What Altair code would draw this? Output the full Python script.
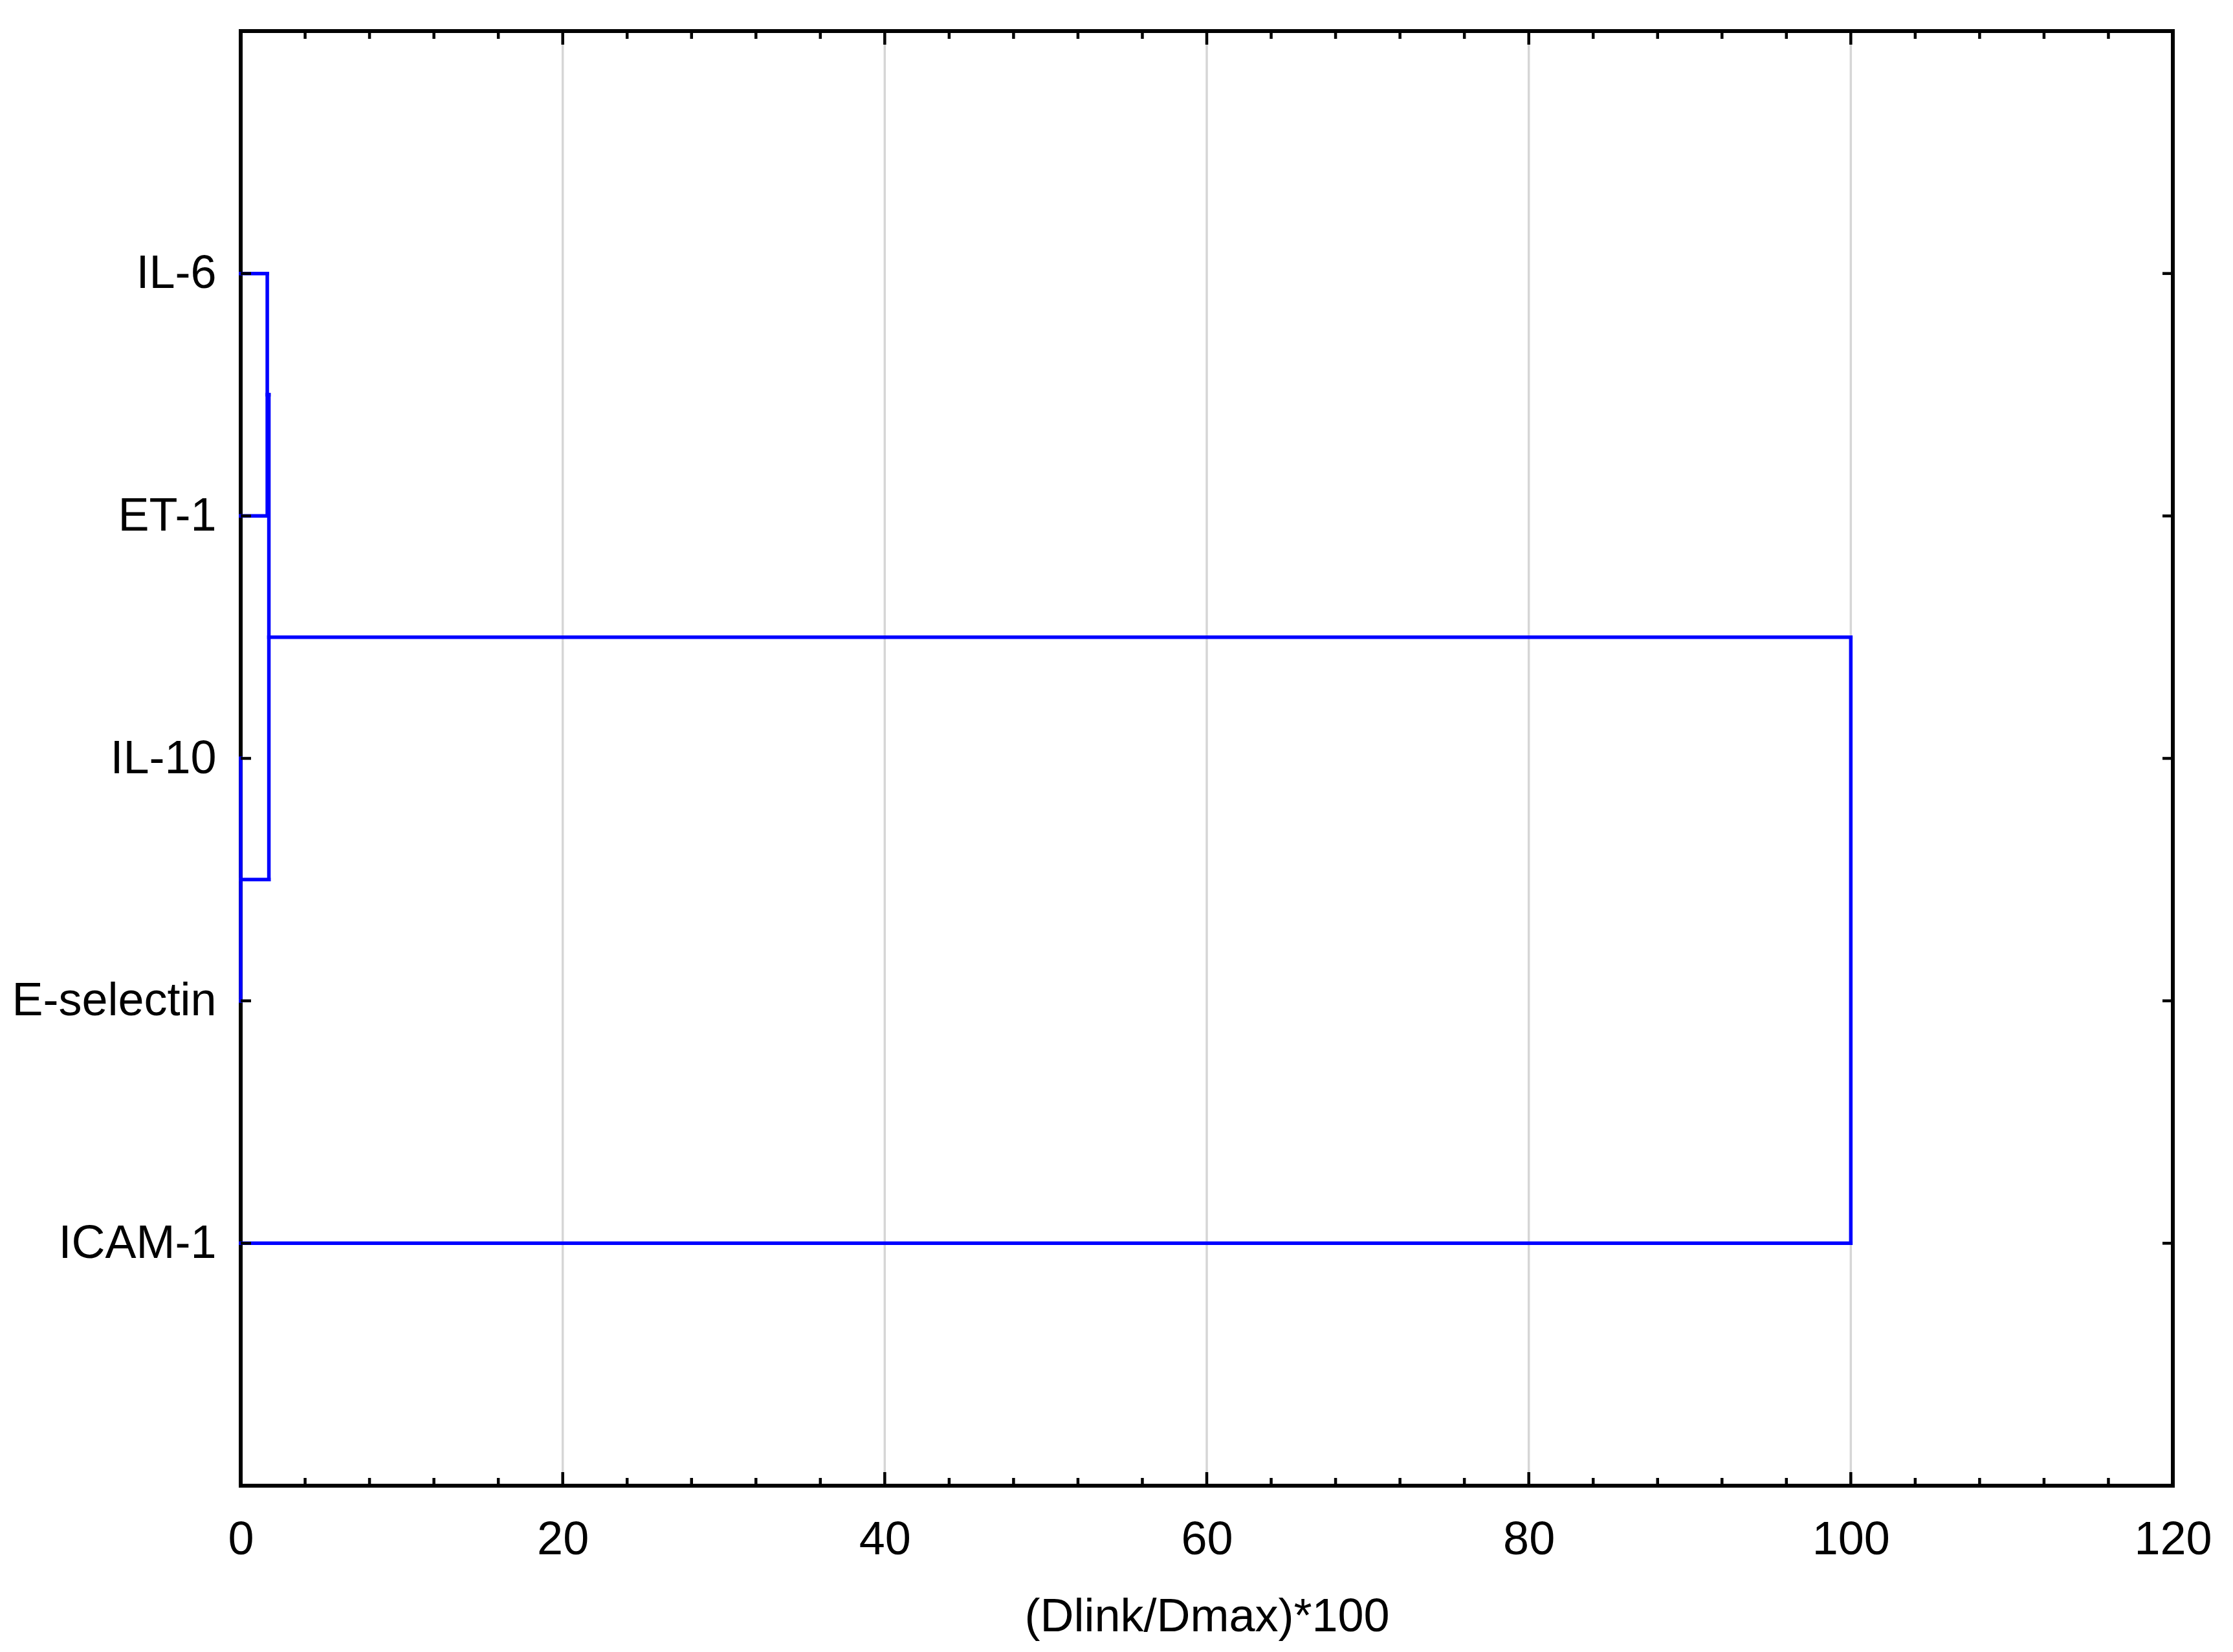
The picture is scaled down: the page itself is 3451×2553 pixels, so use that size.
import altair as alt
import pandas as pd

# ---- data ----
leaves = ["IL-6", "ET-1", "IL-10", "E-selectin", "ICAM-1"]
merge_a = ["IL-10", "IL-6", "K1", "K3"]
merge_b = ["E-selectin", "ET-1", "K2", "ICAM-1"]
merge_h = [0.0, 1.65, 1.75, 100.0]
x_ticks = [0, 20, 40, 60, 80, 100, 120]
x_grid = [20, 40, 60, 80, 100]
x_minor = list(range(0, 121, 4))

# ---- build dendrogram segments from the linkage ----
pos = {name: i + 1 for i, name in enumerate(leaves)}
height = {name: 0.0 for name in leaves}
parent_h = {}
for i, (a, b, h) in enumerate(zip(merge_a, merge_b, merge_h)):
    k = f"K{i + 1}"
    pos[k] = (pos[a] + pos[b]) / 2
    height[k] = h
    parent_h[a] = h
    parent_h[b] = h

segs = []
for node, ph in parent_h.items():
    segs.append(dict(x=height[node], x2=ph, y=pos[node], y2=pos[node]))
for a, b, h in zip(merge_a, merge_b, merge_h):
    segs.append(dict(x=h, x2=h, y=pos[a], y2=pos[b]))
seg_df = pd.DataFrame(segs)

W, H = 2986, 2248
FONT = "Liberation Sans"
xscale = alt.Scale(domain=[0, 120], nice=False, zero=False)
yscale = alt.Scale(domain=[0, 6], reverse=True, nice=False, zero=False)

label_expr = "{" + ",".join(f"'{i + 1}':'{n}'" for i, n in enumerate(leaves)) + "}[datum.value]"

grid = alt.Chart(pd.DataFrame({"v": x_grid})).mark_rule(color="#d6d6d6", strokeWidth=3.5).encode(
    x=alt.X("v:Q", scale=xscale, axis=alt.Axis(
        values=x_ticks, title="(Dlink/Dmax)*100", grid=False,
        ticks=False, tickSize=0, domain=False, labelFontSize=72, labelFont=FONT, labelColor="black",
        labelPadding=48, titleFontSize=72, titleFont=FONT, titleFontWeight="normal",
        titleColor="black", titlePadding=48, labelFlush=False)),
    y=alt.value(0), y2=alt.value(H),
)

lines = alt.Chart(seg_df).mark_rule(color="#0000FF", strokeWidth=5.5, strokeCap="square").encode(
    x=alt.X("x:Q", scale=xscale, axis=None),
    x2="x2:Q",
    y=alt.Y("y:Q", scale=yscale, axis=alt.Axis(
        values=[i + 1 for i in range(len(leaves))], labelExpr=label_expr, title=None,
        grid=False, ticks=False, tickSize=0, domain=False, labelFontSize=72, labelFont=FONT,
        labelColor="black", labelPadding=38, labelLimit=800)),
    y2="y2:Q",
)

minor_df = pd.DataFrame({"v": [v for v in x_minor if v % 20 != 0]})
major_df = pd.DataFrame({"v": x_ticks})
ytick_df = pd.DataFrame({"v": [i + 1 for i in range(len(leaves))]})

def xt(df, y0, y1):
    return alt.Chart(df).mark_rule(color="black", strokeWidth=4.5).encode(
        x=alt.X("v:Q", scale=xscale, axis=None), y=alt.value(y0), y2=alt.value(y1))

def yt(df, x0, x1):
    return alt.Chart(df).mark_rule(color="black", strokeWidth=4.5).encode(
        y=alt.Y("v:Q", scale=yscale, axis=None), x=alt.value(x0), x2=alt.value(x1))

chart = alt.layer(
    grid,
    lines,
    xt(minor_df, H, H - 12), xt(major_df, H, H - 21),
    xt(minor_df, 0, 12), xt(major_df, 0, 21),
    yt(ytick_df, 0, 16), yt(ytick_df, W, W - 16),
).resolve_axis(
    x="independent", y="independent"
).properties(
    width=W, height=H, padding={"left": 9, "top": 37, "right": 5, "bottom": 5}
).configure(
    background="white"
).configure_view(
    stroke="black", strokeWidth=6
)

chart.save("out.html", embed_options={"renderer": "svg", "actions": False})
